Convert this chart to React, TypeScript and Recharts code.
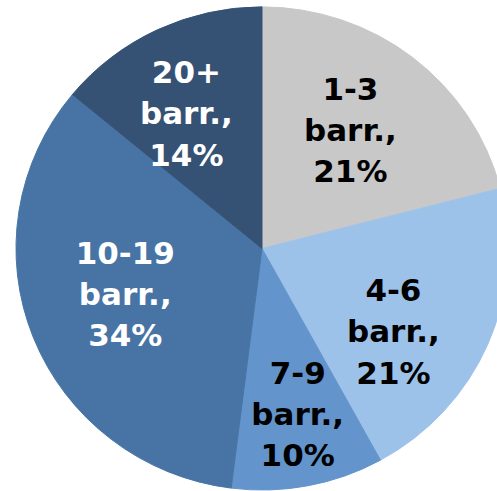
import { Cell, Pie, PieChart } from "recharts";

const categories = ["1-3", "4-6", "7-9", "10-19", "20+"];
const shares = [21, 21, 10, 34, 14];

const sliceColors = ["#c8c8c8", "#9dc2ea", "#6394cb", "#4774a5", "#355275"];
const textColors = ["#000000", "#000000", "#000000", "#ffffff", "#ffffff"];
// how far out from the centre each label sits, as a share of the radius
const labelRadius = [0.6, 0.64, 0.71, 0.59, 0.63];
const labelTurn = [-1, 10, -1, 2, -4];

const data = categories.map((name, i) => ({ name, value: shares[i] }));

const RAD = Math.PI / 180;

const renderLabel = (props: any) => {
  const { cx, cy, midAngle, outerRadius, index } = props;
  const angle = (midAngle - labelTurn[index]) * RAD;
  const r = outerRadius * labelRadius[index];
  const x = cx + r * Math.cos(angle);
  const y = cy - r * Math.sin(angle);
  const lines = [categories[index], "barr.,", `${shares[index]}%`];
  return (
    <text
      x={x}
      y={y}
      fill={textColors[index]}
      textAnchor="middle"
      fontFamily="'DejaVu Sans', sans-serif"
      fontWeight="bold"
      fontSize={31}
    >
      {lines.map((line, j) => (
        <tspan key={j} x={x} y={y + (j - 1) * 42 + 9}>
          {line}
        </tspan>
      ))}
    </text>
  );
};

export default function App() {
  return (
    <div style={{ position: "fixed", left: 0, top: 0, width: 497, height: 491, overflow: "hidden", background: "#fff" }}>
      <div style={{ transform: "scaleY(0.982)", transformOrigin: "0 0" }}>
        <PieChart width={540} height={540} margin={{ top: 0, right: 0, bottom: 0, left: 0 }}>
          <Pie
            data={data}
            dataKey="value"
            nameKey="name"
            cx={262}
            cy={253}
            outerRadius={246}
            startAngle={90}
            endAngle={-270}
            label={renderLabel}
            labelLine={false}
            isAnimationActive={false}
          >
            {data.map((d, i) => (
              <Cell key={d.name} fill={sliceColors[i]} stroke={sliceColors[i]} />
            ))}
          </Pie>
        </PieChart>
      </div>
    </div>
  );
}
